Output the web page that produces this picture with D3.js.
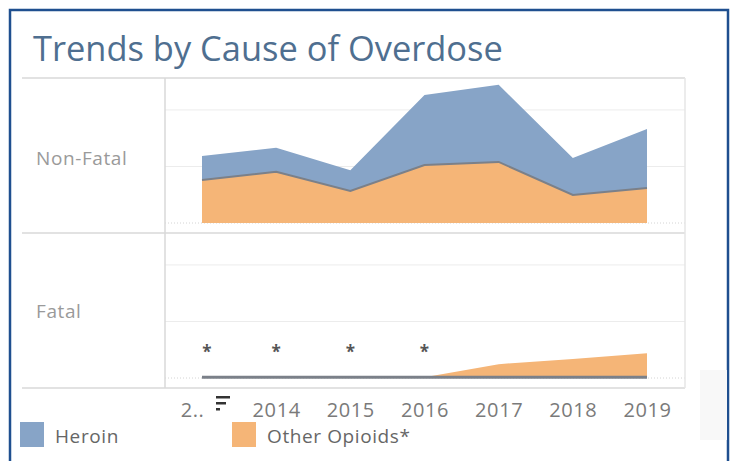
<!DOCTYPE html>
<html>
<head>
<meta charset="utf-8">
<script src="https://cdn.jsdelivr.net/npm/d3@7"></script>
<style>
  body { margin: 0; background: #fff; }
  text { font-family: "Open Sans", "Noto Sans", sans-serif; }
</style>
</head>
<body>
<div id="chart"></div>
<script>
// chart data (relative counts)
const years = [2013, 2014, 2015, 2016, 2017, 2018, 2019];
const nonFatalOther = [152, 181, 113, 205, 216, 99, 124];
const nonFatalHeroin = [85, 85, 74, 248, 273, 131, 209];
const fatalOther = [0, 0, 0, 0, 46, 64, 85];
const fatalHeroin = [3, 3, 3, 3, 3, 3, 3];
const suppressedYears = [2013, 2014, 2015, 2016];
const yTicks = [0, 200, 400];
const paneNames = ["Non-Fatal", "Fatal"];
const legendNames = ["Heroin", "Other Opioids*"];

const svgWidth = 738;
const svgHeight = 461;
const colors = { heroin: "#87a4c7", other: "#f5b577" };

const svg = d3.select("#chart")
  .append("svg")
  .attr("width", svgWidth)
  .attr("height", svgHeight);

// outer frame
svg.append("rect")
  .attr("x", 10).attr("y", 10)
  .attr("width", 718).attr("height", 470)
  .attr("fill", "none")
  .attr("stroke", "#1f4f8f")
  .attr("stroke-width", 2.5);

// faint patch at lower right
svg.append("rect")
  .attr("x", 700).attr("y", 370)
  .attr("width", 27).attr("height", 70)
  .attr("fill", "#f8f8f8");

// title, fitted to its width in the picture
const title = svg.append("text")
  .attr("x", 33).attr("y", 61)
  .attr("fill", "#4f6f90")
  .attr("font-size", 30)
  .text("Trends by Cause of Overdose");
const tw = title.node().getComputedTextLength();
title.attr("font-size", 30 * 470 / tw);

// layout of the panes
const left = 22, divider = 165, right = 685;
const paneTop = [78, 233];
const paneH = 145;
const bottom = paneTop[1] + paneH + 10; // 388

const x = d3.scalePoint()
  .domain(years)
  .range([202, 647]);

const y = d3.scaleLinear()
  .domain([0, 513])
  .range([paneH, 0]);

const panes = [
  { name: paneNames[0], keys: ["other", "heroin"],
    rows: years.map((yr, i) => ({ year: yr, other: nonFatalOther[i], heroin: nonFatalHeroin[i] })) },
  { name: paneNames[1], keys: ["heroin", "other"],
    rows: years.map((yr, i) => ({ year: yr, other: fatalOther[i], heroin: fatalHeroin[i] })) }
];

const area = d3.area()
  .x(d => x(d.data.year))
  .y0(d => y(d[0]))
  .y1(d => y(d[1]));

const topLine = d3.line()
  .x(d => x(d.data.year))
  .y(d => y(d[1]));

panes.forEach((p, pi) => {
  const g = svg.append("g")
    .attr("transform", `translate(0, ${paneTop[pi]})`);

  // gridlines
  g.selectAll(".grid")
    .data(yTicks.slice(1))
    .enter()
    .append("line")
    .attr("x1", divider).attr("x2", right)
    .attr("y1", d => y(d)).attr("y2", d => y(d))
    .attr("stroke", "#ececec");

  // zero line, dotted
  g.append("line")
    .attr("x1", divider).attr("x2", right)
    .attr("y1", y(0)).attr("y2", y(0))
    .attr("stroke", "#d4d4d4")
    .attr("stroke-dasharray", "1,2");

  const series = d3.stack().keys(p.keys)(p.rows);

  g.selectAll(".area")
    .data(series)
    .enter()
    .append("path")
    .attr("d", area)
    .attr("fill", d => colors[d.key]);

  // boundary line on top of the lower layer
  g.append("path")
    .datum(series[0])
    .attr("d", topLine)
    .attr("fill", "none")
    .attr("stroke", "#7b8089")
    .attr("stroke-width", pi === 0 ? 2 : 3);

  // row header
  g.append("text")
    .attr("x", 36)
    .attr("y", pi === 0 ? 87 : 85)
    .attr("fill", "#9a9a9a")
    .attr("font-size", 19)
    .attr("letter-spacing", 0.6)
    .text(p.name);
});

// suppressed values in the fatal pane
svg.selectAll(".star")
  .data(suppressedYears)
  .enter()
  .append("text")
  .attr("x", d => x(d) + (d === 2013 ? 5 : 0))
  .attr("y", 358)
  .attr("text-anchor", "middle")
  .attr("fill", "#555")
  .attr("font-size", 17)
  .attr("font-weight", "bold")
  .text("*");

// frame lines
const frame = svg.append("g")
  .attr("stroke", "#d9d9d9")
  .attr("stroke-width", 1.5);
frame.append("line").attr("x1", left).attr("x2", right).attr("y1", paneTop[0]).attr("y2", paneTop[0]);
frame.append("line").attr("x1", left).attr("x2", right).attr("y1", paneTop[1]).attr("y2", paneTop[1]);
frame.append("line").attr("x1", left).attr("x2", right).attr("y1", bottom).attr("y2", bottom);
frame.append("line").attr("x1", divider).attr("x2", divider).attr("y1", paneTop[0]).attr("y2", bottom);
frame.append("line").attr("x1", right).attr("x2", right).attr("y1", paneTop[0]).attr("y2", bottom)
  .attr("stroke", "#e6e6e6");

// x axis
const xAxis = svg.append("g")
  .attr("transform", `translate(0, ${bottom})`)
  .call(d3.axisBottom(x).tickSize(0).tickFormat(d => d === 2013 ? "2.." : d));
xAxis.select(".domain").remove();
xAxis.selectAll("text")
  .attr("y", 29)
  .attr("dy", 0)
  .attr("fill", "#7a7a7a")
  .attr("font-size", 20)
  .attr("letter-spacing", 0.6)
  .attr("font-family", "'Open Sans', sans-serif")
  .attr("dx", d => d === 2013 ? -10 : 0);

// sort icon next to the first label
const icon = svg.append("g").attr("fill", "#333");
[[216, 396, 14], [216, 402, 10], [216, 408, 4]].forEach(b => {
  icon.append("rect").attr("x", b[0]).attr("y", b[1]).attr("width", b[2]).attr("height", 2.5);
});

// legend
const legend = svg.selectAll(".legend")
  .data(legendNames)
  .enter()
  .append("g")
  .attr("transform", (d, i) => `translate(${i === 0 ? 20 : 232}, 422)`);
legend.append("rect")
  .attr("width", 24).attr("height", 25)
  .attr("fill", (d, i) => i === 0 ? colors.heroin : colors.other);
legend.append("text")
  .attr("x", 35).attr("y", 21)
  .attr("fill", "#666")
  .attr("font-size", 19)
  .attr("letter-spacing", 0.6)
  .text(d => d);
</script>
</body>
</html>
